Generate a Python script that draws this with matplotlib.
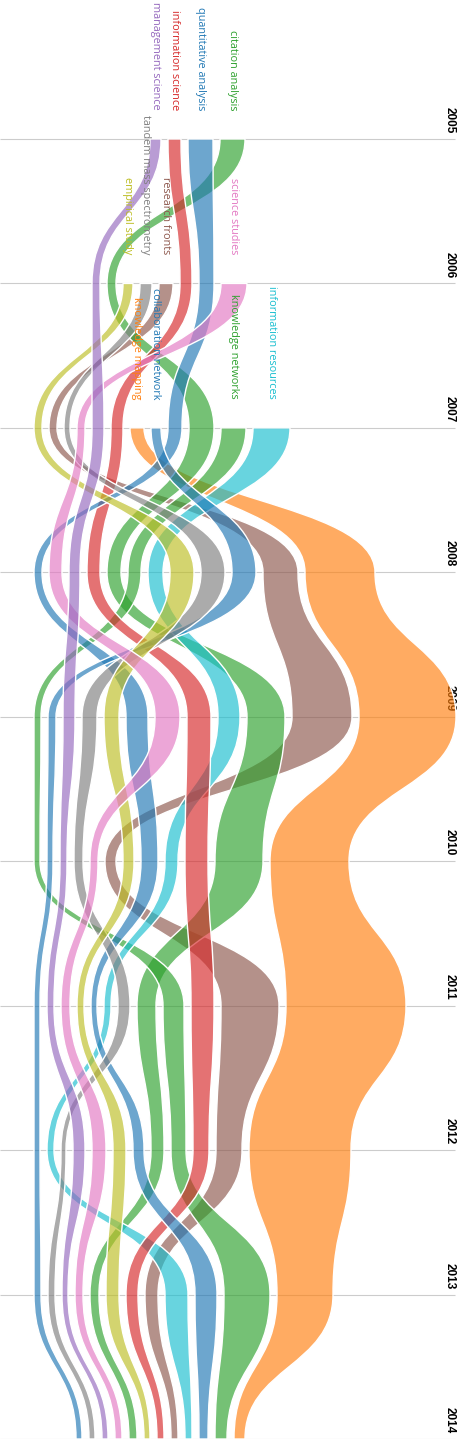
import numpy as np
import matplotlib.pyplot as plt
from matplotlib.path import Path
from matplotlib.patches import PathPatch
from matplotlib.colors import to_rgba

nan = np.nan

years = [2005, 2006, 2007, 2008, 2009, 2010, 2011, 2012, 2013, 2014]

# keyword -> label, colour
names = {
    "CA": "citation analysis",
    "QA": "quantitative analysis",
    "IS": "information science",
    "MS": "management science",
    "SS": "science studies",
    "RF": "research fronts",
    "TMS": "tandem mass spectrometry",
    "ES": "empirical study",
    "KN": "knowledge networks",
    "IR": "information resources",
    "CN": "collaboration network",
    "KM": "knowledge mapping",
}
colors = {
    "CA": "#2ca02c", "QA": "#1f77b4", "IS": "#d62728", "MS": "#9467bd",
    "SS": "#e377c2", "RF": "#8c564b", "TMS": "#7f7f7f", "ES": "#bcbd22",
    "KN": "#2ca02c", "IR": "#17becf", "CN": "#1f77b4", "KM": "#ff7f0e",
}

# frequency per year (nan = keyword not there yet)
CA = [25, 9, 25, 14, 38, 48, 19, 13, 9, 8]
QA = [25, 15, 14, 8, 22, 17, 6, 11, 22, 9]
IS = [13, 12, 12, 13, 24, 23, 23, 16, 12, 7]
MS = [11, 8, 12, 11, 12, 7, 7, 12, 6, 6]
SS = [nan, 26, 8, 13, 25, 8, 9, 14, 8, 7]
RF = [nan, 14, 8, 35, 60, 11, 58, 26, 13, 7]
TMS = [nan, 12, 6, 24, 15, 9, 12, 5, 7, 6]
ES = [nan, 10, 8, 24, 15, 11, 7, 13, 13, 6]
KN = [nan, nan, 25, 13, 7, 6, 21, 15, 46, 12]
IR = [nan, nan, 37, 15, 22, 13, 7, 7, 23, 7]
CN = [nan, nan, 10, 24, 8, 6, 6, 6, 7, 6]
KM = [nan, nan, 14, 70, 97, 79, 120, 102, 56, 11]
freq = dict(CA=CA, QA=QA, IS=IS, MS=MS, SS=SS, RF=RF, TMS=TMS, ES=ES,
            KN=KN, IR=IR, CN=CN, KM=KM)

# left-to-right order in each year
order_2005 = ["MS", "IS", "QA", "CA"]
order_2006 = ["MS", "CA", "ES", "TMS", "RF", "IS", "QA", "SS"]
order_2007 = ["ES", "RF", "TMS", "SS", "MS", "IS", "KM", "CN", "QA", "CA", "KN", "IR"]
order_2008 = ["QA", "SS", "MS", "IS", "CA", "KN", "IR", "ES", "TMS", "CN", "RF", "KM"]
order_2009 = ["KN", "CN", "MS", "TMS", "ES", "QA", "SS", "IS", "IR", "CA", "RF", "KM"]
order_2010 = ["KN", "CN", "MS", "TMS", "SS", "RF", "ES", "QA", "IR", "IS", "CA", "KM"]
order_2011 = ["CN", "MS", "SS", "ES", "QA", "IR", "TMS", "CA", "KN", "IS", "RF", "KM"]
order_2012 = ["CN", "IR", "TMS", "MS", "SS", "ES", "QA", "CA", "KN", "IS", "RF", "KM"]
order_2013 = ["CN", "TMS", "MS", "SS", "CA", "ES", "IS", "RF", "IR", "QA", "KN", "KM"]
order_2014 = ["CN", "TMS", "MS", "SS", "CA", "ES", "IS", "RF", "IR", "QA", "KN", "KM"]
orders = [order_2005, order_2006, order_2007, order_2008, order_2009,
          order_2010, order_2011, order_2012, order_2013, order_2014]

stack_start = [150, 92, 34, 34, 34, 34, 34, 34, 34, 76]
gap = 7

# stack the streams year by year
lo = {k: [nan] * len(years) for k in names}
hi = {k: [nan] * len(years) for k in names}
for j in range(len(years)):
    x = stack_start[j]
    for k in orders[j]:
        lo[k][j] = x
        x += freq[k][j]
        hi[k][j] = x
        x += gap


def band(l, h, ys):
    verts = [(l[0], ys[0])]
    cds = [Path.MOVETO]
    for i in range(len(ys) - 1):
        ym = (ys[i] + ys[i + 1]) / 2
        verts += [(l[i], ym), (l[i + 1], ym), (l[i + 1], ys[i + 1])]
        cds += [Path.CURVE4] * 3
    verts.append((h[-1], ys[-1]))
    cds.append(Path.LINETO)
    for i in range(len(ys) - 1, 0, -1):
        ym = (ys[i] + ys[i - 1]) / 2
        verts += [(h[i], ym), (h[i - 1], ym), (h[i - 1], ys[i - 1])]
        cds += [Path.CURVE4] * 3
    verts.append((l[0], ys[0]))
    cds.append(Path.CLOSEPOLY)
    return Path(verts, cds)


fig = plt.figure(figsize=(4.74, 14.39), dpi=100)
ax = fig.add_axes([0, 0, 1, 1])
ax.set_xlim(0, 474)
ax.set_ylim(2014, 2005 - 139 / 144.44)
ax.axis("off")

ax.hlines(years, 0, 455, color="#cccccc", lw=0.8, zorder=0)
for yr in years:
    ax.text(450, yr - 0.04, str(yr), rotation=-90, ha="center", va="bottom",
            fontsize=8.5, fontweight="bold", family="Liberation Sans", zorder=0)

draw_order = ["KM", "RF", "CA", "KN", "IR", "IS", "QA", "CN", "TMS", "ES", "SS", "MS"]
for z, k in enumerate(draw_order):
    idx = [j for j in range(len(years)) if not np.isnan(freq[k][j])]
    ys = [years[j] for j in idx]
    p = band([lo[k][j] for j in idx], [hi[k][j] for j in idx], ys)
    ax.add_patch(PathPatch(p, facecolor=to_rgba(colors[k], 0.65),
                           edgecolor="white", lw=1.0, zorder=2 + z))
    j0 = idx[0]
    ax.text((lo[k][j0] + hi[k][j0]) / 2, years[j0] - 0.2, names[k], rotation=-90,
            ha="center", va="bottom", fontsize=7.8, family="Open Sans",
            color=colors[k], zorder=30)

fig.savefig("out.png", dpi=100)
